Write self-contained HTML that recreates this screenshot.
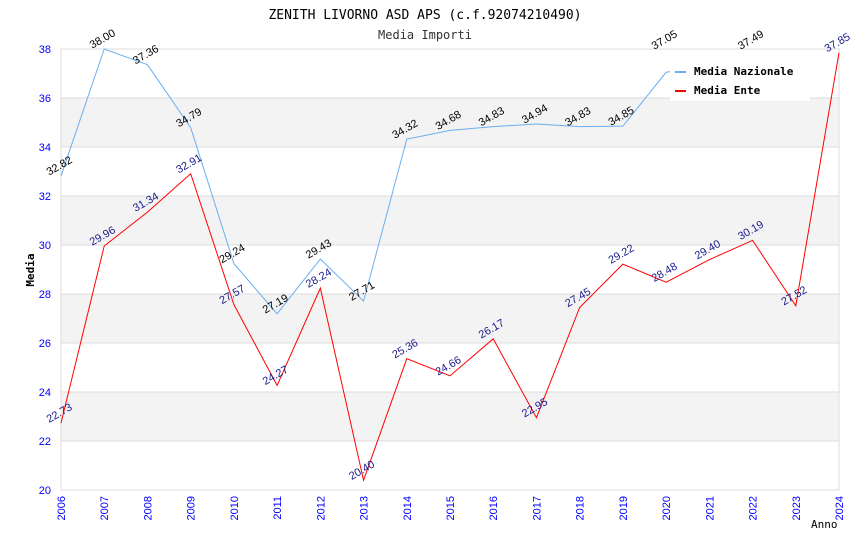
<!DOCTYPE html>
<html><head><meta charset="utf-8"><style>body{margin:0;background:#fff}svg{display:block}</style></head><body>
<svg id="c" width="850" height="550" xmlns="http://www.w3.org/2000/svg"></svg>
<script>
const years=[2006,2007,2008,2009,2010,2011,2012,2013,2014,2015,2016,2017,2018,2019,2020,2021,2022,2023,2024];
const nazionale=[32.82,38.00,37.36,34.79,29.24,27.19,29.43,27.71,34.32,34.68,34.83,34.94,34.83,34.85,37.05,37.3,37.49];
const ente=[22.73,29.96,31.34,32.91,27.57,24.27,28.24,20.40,25.36,24.66,26.17,22.95,27.45,29.22,28.48,29.40,30.19,27.52,37.85];
const yTicks=[20,22,24,26,28,30,32,34,36,38];
const X0=61,X1=839,Y0=490,Y1=49,ymin=20,ymax=38;
const LG={x:670,y:50,w:140,h:51};
const sx=i=>X0+(X1-X0)*i/(years.length-1);
const sy=v=>Y0-(v-ymin)/(ymax-ymin)*(Y0-Y1);
const svg=document.getElementById('c');const NS='http://www.w3.org/2000/svg';
function mk(t,a,txt){const e=document.createElementNS(NS,t);for(const k in a)e.setAttribute(k,a[k]);if(txt!=null)e.textContent=txt;svg.appendChild(e);return e;}
let e;
e=mk('text',{x:425,y:19,'text-anchor':'middle','font-family':'DejaVu Sans Mono,monospace','font-size':13,fill:'#000'},'ZENITH LIVORNO ASD APS (c.f.92074210490)');

e=mk('text',{x:425,y:39,'text-anchor':'middle','font-family':'DejaVu Sans Mono,monospace','font-size':12,fill:'#333'},'Media Importi');

for(let i=0;i<yTicks.length-1;i++){
 if(i%2==1){e=mk('rect',{x:X0,y:sy(yTicks[i+1]),width:X1-X0,height:sy(yTicks[i])-sy(yTicks[i+1]),fill:'#f3f3f3'});
 }
}
yTicks.forEach(v=>{e=mk('line',{x1:X0,x2:X1,y1:sy(v),y2:sy(v),stroke:'#dcdcdc'});
 
 e=mk('text',{x:X0-10,y:sy(v)+4,'text-anchor':'end','font-family':'Liberation Sans,sans-serif','font-size':11,fill:'#00f'},v);
 });
e=mk('rect',{x:X0,y:Y1,width:X1-X0,height:Y0-Y1,fill:'none',stroke:'#dcdcdc'});

years.forEach((y,i)=>{const x=sx(i);
 e=mk('text',{x:0,y:0,'text-anchor':'end','font-family':'Liberation Sans,sans-serif','font-size':11,fill:'#00f',transform:`translate(${x+4},${Y0+6}) rotate(-90)`},y);
 });
e=mk('text',{x:0,y:0,'text-anchor':'middle','font-family':'DejaVu Sans Mono,monospace','font-size':11,'font-weight':'bold',fill:'#000',transform:'translate(34,270) rotate(-90)'},'Media');

e=mk('text',{x:811,y:528,'font-family':'DejaVu Sans Mono,monospace','font-size':11,fill:'#000'},'Anno');

const labels=[];
function series(arr,col,lab,name){
 e=mk('polyline',{points:arr.map((v,i)=>sx(i)+','+sy(v)).join(' '),fill:'none',stroke:col,'stroke-width':1});
 
 arr.forEach((v,i)=>labels.push({x:sx(i),y:sy(v),t:v.toFixed(2),c:lab,n:name,i:i}));
}
series(nazionale,'#6aaef0','#000','nazionale');
series(ente,'#ff0000','#1a1a8c','ente');
e=mk('rect',{x:LG.x,y:LG.y,width:LG.w,height:LG.h,fill:'#fff'});

e=mk('line',{x1:675,x2:686,y1:72,y2:72,stroke:'#6aaef0','stroke-width':2});

e=mk('text',{x:694,y:75,'font-family':'DejaVu Sans Mono,monospace','font-size':11,'font-weight':'bold'},'Media Nazionale');

e=mk('line',{x1:675,x2:686,y1:91,y2:91,stroke:'#ff0000','stroke-width':2});

e=mk('text',{x:694,y:94,'font-family':'DejaVu Sans Mono,monospace','font-size':11,'font-weight':'bold'},'Media Ente');

labels.forEach(l=>{
 let ly=l.y-7;
 const inLeg=l.x>LG.x-12&&l.x<LG.x+LG.w+5&&ly<LG.y+LG.h+5;
 if(inLeg){ if(l.x>LG.x+5&&l.x<LG.x+60) return; ly=Math.min(ly,43);}
 e=mk('text',{x:0,y:0,'text-anchor':'middle','font-family':'Liberation Sans,sans-serif','font-size':11,fill:l.c,transform:`translate(${l.x},${ly}) rotate(-30)`},l.t);
 
});
</script>
</body></html>
